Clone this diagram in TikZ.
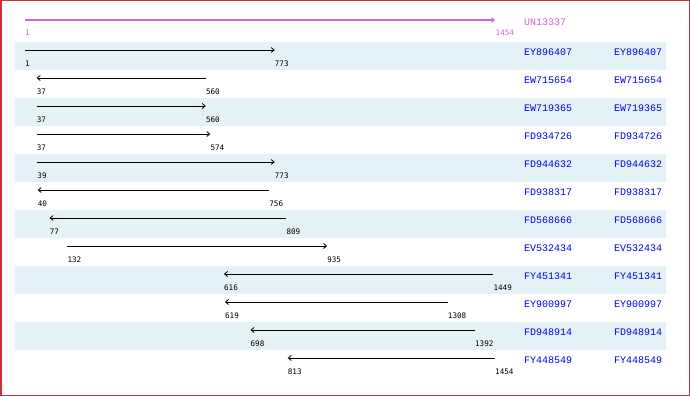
\documentclass[tikz,border=0pt]{standalone}
\usepackage{fontspec}
\setmonofont{Liberation Mono}
\newfontfamily\numfont{DejaVu Sans Mono}
\usetikzlibrary{arrows.meta}
\definecolor{rowshade}{HTML}{E4F1F5}
\definecolor{frame}{HTML}{C43434}
\definecolor{mag}{HTML}{CC66CC}
\definecolor{nameblue}{HTML}{0000EE}
\tikzset{
  seqline/.style={line width=0.9pt, black},
  fwd/.style={seqline, -{Straight Barb[length=3pt,width=5pt,line width=0.8pt]}},
  rev/.style={seqline, {Straight Barb[length=3pt,width=5pt,line width=0.8pt]}-},
  numlab/.style={anchor=west, inner sep=0pt, font=\numfont\fontsize{7.6}{8}\selectfont},
  namelab/.style={anchor=west, inner sep=0pt, text=nameblue, font=\ttfamily\fontsize{10}{11}\selectfont},
}
\begin{document}
\begin{tikzpicture}[x=1pt,y=-1pt]
\useasboundingbox (0,0) rectangle (690,396);
\fill[white] (0,0) rectangle (690,396);
% shaded rows
\foreach \r in {1,3,5,7,9,11}{
  \fill[rowshade] (15,{42+28*(\r-1)}) rectangle (666,{42+28*\r});
}
% header
\coordinate (hs) at (25,20);
\coordinate (he) at (495,20);
\draw[mag, line width=1.8pt, -{Straight Barb[length=3pt,width=5pt,line width=0.8pt]}] (hs) -- (he);
\node[numlab, text=mag, anchor=west] (hl1) at (25,33) {1};
\node[numlab, text=mag, anchor=west] (hl2) at (495.5,33) {1454};
\node[namelab, text=mag] (hname) at (524,22) {UN13337};
% rows
\foreach \r/\nm/\a/\b/\st in {
  1/EY896407/1/773/fwd,
  2/EW715654/37/560/rev,
  3/EW719365/37/560/fwd,
  4/FD934726/37/574/fwd,
  5/FD944632/39/773/fwd,
  6/FD938317/40/756/rev,
  7/FD568666/77/809/rev,
  8/EV532434/132/935/fwd,
  9/FY451341/616/1449/rev,
  10/EY900997/619/1308/rev,
  11/FD948914/698/1392/rev,
  12/FY448549/813/1454/rev}{
  \pgfmathsetmacro\xa{25+(\a-1)/1453*470}
  \pgfmathsetmacro\xb{25+(\b-1)/1453*470}
  \pgfmathsetmacro\yt{42+28*(\r-1)}
  \coordinate (s\r) at (\xa,\yt+8);
  \coordinate (e\r) at (\xb,\yt+8);
  \draw[\st] (s\r) -- (e\r);
  \node[numlab] (la\r) at (\xa,\yt+22) {\a};
  \node[numlab] (lb\r) at (\xb,\yt+22) {\b};
  \node[namelab] (na\r) at (524,\yt+10) {\nm};
  \node[namelab] (nb\r) at (614,\yt+10) {\nm};
}
\draw[frame, line width=1.5pt] (0.75,0.75) rectangle (689.25,395.25);
\end{tikzpicture}
\end{document}
